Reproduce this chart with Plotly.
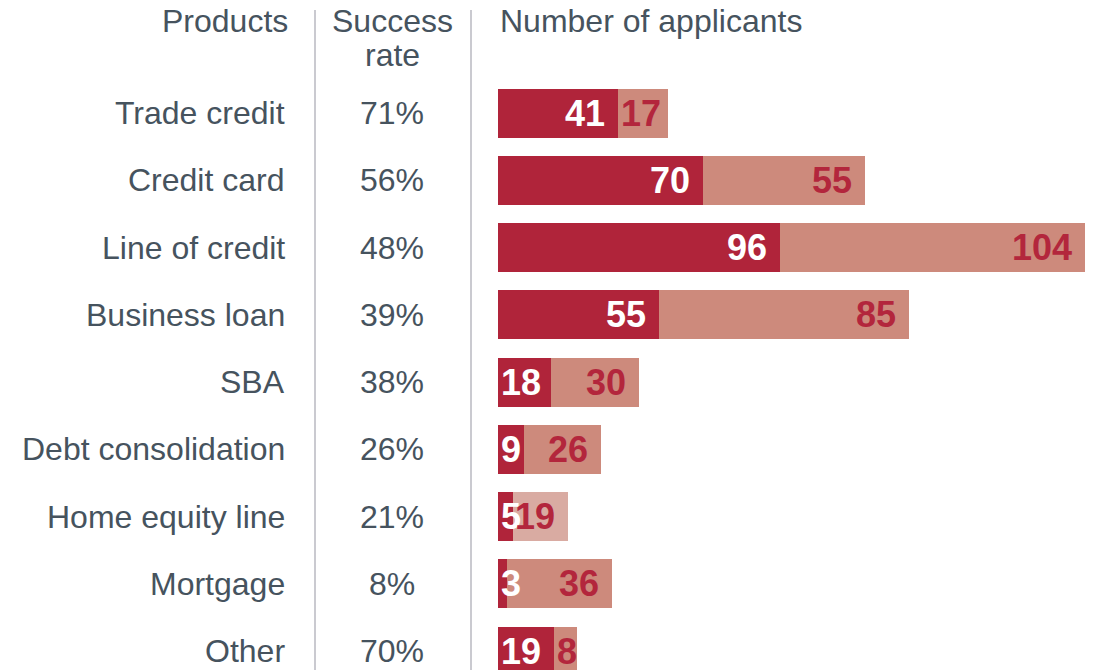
import plotly.graph_objects as go

# Loan products and applicant outcomes
products = ["Trade credit", "Credit card", "Line of credit", "Business loan", "SBA",
            "Debt consolidation", "Home equity line", "Mortgage", "Other"]
success_rate = [71, 56, 48, 39, 38, 26, 21, 8, 70]
approved = [41, 70, 96, 55, 18, 9, 5, 3, 19]
not_approved = [17, 55, 104, 85, 30, 26, 19, 36, 8]

W, H = 1097, 670
FONT = "Liberation Sans, Arial, sans-serif"
TEXT = "#46535e"
DARK = "#b0243a"
LIGHT = "#cd8a7c"
LIGHT_ALT = "#d9aba2"
NUM_COLOR = "#b3263c"
LABEL_SIZE = 32
NUM_SIZE = 36

# Bar area geometry (pixels)
bar_left = 498
px_per_unit = 2.935
row_step = 67.25
first_row = 113
bar_h = 49

x_max = (W - bar_left) / px_per_unit
y_top = -first_row / row_step
y_bot = (H - first_row) / row_step

rows = list(range(len(products)))
light_colors = [LIGHT_ALT if p == "Home equity line" else LIGHT for p in products]

fig = go.Figure()
fig.add_trace(go.Bar(y=rows, x=approved, orientation="h", marker=dict(color=DARK, line_width=0),
                     width=bar_h / row_step, hoverinfo="skip", showlegend=False))
fig.add_trace(go.Bar(y=rows, x=not_approved, orientation="h", marker=dict(color=light_colors, line_width=0),
                     width=bar_h / row_step, hoverinfo="skip", showlegend=False))

annotations = []


def value_label(start, value, row, color):
    seg_w = value * px_per_unit
    text_w = len(str(value)) * 0.556 * NUM_SIZE
    pad = 13
    if seg_w - pad - text_w >= 2:
        return dict(x=start + value, y=row, xref="x", yref="y", text=str(value), showarrow=False,
                    xanchor="right", yanchor="middle", xshift=-(pad - 2),
                    font=dict(family=FONT, size=NUM_SIZE, color=color, weight="bold"))
    return dict(x=start, y=row, xref="x", yref="y", text=str(value), showarrow=False,
                xanchor="left", yanchor="middle", xshift=1,
                font=dict(family=FONT, size=NUM_SIZE, color=color, weight="bold"))


for i, (p, s, a, n) in enumerate(zip(products, success_rate, approved, not_approved)):
    annotations.append(dict(x=287 / W, y=i, xref="paper", yref="y", text=p, showarrow=False,
                            xanchor="right", yanchor="middle",
                            font=dict(family=FONT, size=LABEL_SIZE, color=TEXT)))
    annotations.append(dict(x=392 / W, y=i, xref="paper", yref="y", text=f"{s}%", showarrow=False,
                            xanchor="center", yanchor="middle",
                            font=dict(family=FONT, size=LABEL_SIZE, color=TEXT)))
    annotations.append(value_label(0, a, i, "white"))
    annotations.append(value_label(a, n, i, NUM_COLOR))

# Column headers
headers = [
    ("Products", 290 / W, 21, "right"),
    ("Success", 392 / W, 21, "center"),
    ("rate", 392 / W, 55, "center"),
    ("Number of applicants", 498 / W, 21, "left"),
]
for txt, x, ypx, anchor in headers:
    annotations.append(dict(x=x, y=1 - ypx / H, xref="paper", yref="paper", text=txt, showarrow=False,
                            xanchor=anchor, yanchor="middle",
                            font=dict(family=FONT, size=LABEL_SIZE, color=TEXT)))

shapes = [
    dict(type="line", xref="paper", yref="paper", x0=xp / W, x1=xp / W, y0=0, y1=1 - 10 / H,
         line=dict(color="#b9b9c0", width=1.5))
    for xp in (315, 471)
]

fig.update_layout(
    width=W, height=H,
    margin=dict(l=0, r=0, t=0, b=0),
    paper_bgcolor="white", plot_bgcolor="white",
    barmode="stack", bargap=0,
    xaxis=dict(domain=[bar_left / W, 1], range=[0, x_max], visible=False, fixedrange=True),
    yaxis=dict(range=[y_bot, y_top], visible=False, fixedrange=True),
    annotations=annotations,
    shapes=shapes,
)

fig.write_html("out.html")
